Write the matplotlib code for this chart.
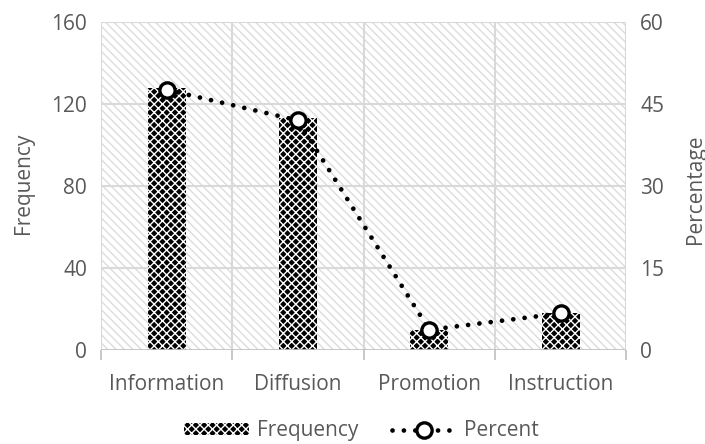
import numpy as np
import matplotlib
matplotlib.use('Agg')
import matplotlib.pyplot as plt
from matplotlib.lines import Line2D
from matplotlib.patches import Patch, Rectangle

categories = ['Information', 'Diffusion', 'Promotion', 'Instruction']
frequency = [128, 113, 10, 18]
percent = [47.6, 42.0, 3.7, 6.7]
left_ticks = [0, 40, 80, 120, 160]
right_ticks = [0, 15, 30, 45, 60]

plt.rcParams['font.family'] = ['Open Sans', 'DejaVu Sans']
plt.rcParams['hatch.linewidth'] = 1.0
txt = '#595959'
grid_c = '#d9d9d9'
fs = 15

fig = plt.figure(figsize=(7.05, 4.44), dpi=100)
ax = fig.add_axes([0.1433, 0.2117, 0.745, 0.7388])
ax2 = ax.twinx()

x = np.arange(len(categories))
ax.set_xlim(-0.5, len(categories) - 0.5)
ax.set_ylim(0, 160)
ax2.set_ylim(0, 60)

# fondo rayado del area de trazado
bg = Rectangle((0, 0), 1, 1, transform=ax.transAxes, facecolor='white',
               edgecolor='#dcdcdc', hatch='\\\\\\\\', linewidth=0, zorder=0)
ax.add_patch(bg)
ax.patch.set_visible(False)

# rejilla
for v in left_ticks[1:]:
    ax.axhline(v, color=grid_c, linewidth=1.5, zorder=1)
for b in np.arange(-0.5, len(categories), 1.0):
    ax.axvline(b, color=grid_c, linewidth=1.5, zorder=1)

ax.bar(x, frequency, width=0.29, color='black', edgecolor='white',
       hatch='xxxx', linewidth=0, zorder=2)

dots = (0, (0.01, 2.4))
ax2.plot(x, percent, color='black', linestyle=dots, linewidth=3.4,
         dash_capstyle='round', marker='o', markersize=11,
         markerfacecolor='white', markeredgecolor='black', markeredgewidth=2.4,
         zorder=3)

for a in (ax, ax2):
    for s in ('left', 'right', 'top', 'bottom'):
        a.spines[s].set_visible(False)
ax.axhline(0, color='#bfbfbf', linewidth=1.2, zorder=2.5)

ax.set_xticks(np.arange(-0.5, len(categories), 1.0), minor=False)
ax.set_xticklabels([])
ax.tick_params(axis='x', which='major', length=7, color='#bfbfbf', width=1.2)
ax.set_xticks(x, minor=True)
ax.set_xticklabels(categories, minor=True)
ax.tick_params(axis='x', which='minor', length=0, pad=17, labelsize=fs, labelcolor=txt)

ax.set_yticks(left_ticks)
ax.tick_params(axis='y', length=0, pad=10, labelsize=fs, labelcolor=txt)
ax2.set_yticks(right_ticks)
ax2.tick_params(axis='y', length=0, pad=10, labelsize=fs, labelcolor=txt)

# titulos de ejes
fig.text(23 / 705, 1 - 183 / 444, 'Frequency', rotation=90, ha='center', va='center',
         fontsize=fs, color=txt)
fig.text(696 / 705, 1 - 189 / 444, 'Percentage', rotation=90, ha='center', va='center',
         fontsize=fs, color=txt)

handles = [
    Patch(facecolor='black', edgecolor='white', hatch='xxxx', linewidth=0),
    Line2D([0], [0], color='black', linestyle=dots, linewidth=3.4,
           dash_capstyle='round', marker='o', markersize=11,
           markerfacecolor='white', markeredgecolor='black', markeredgewidth=2.4),
]
fig.legend(handles, ['Frequency', 'Percent'], loc='center', bbox_to_anchor=(0.513, 0.03),
           ncol=2, frameon=False, fontsize=fs, labelcolor=txt,
           handlelength=3.1, handleheight=0.48, columnspacing=1.6, handletextpad=0.39)

fig.savefig('out.png', dpi=100)
